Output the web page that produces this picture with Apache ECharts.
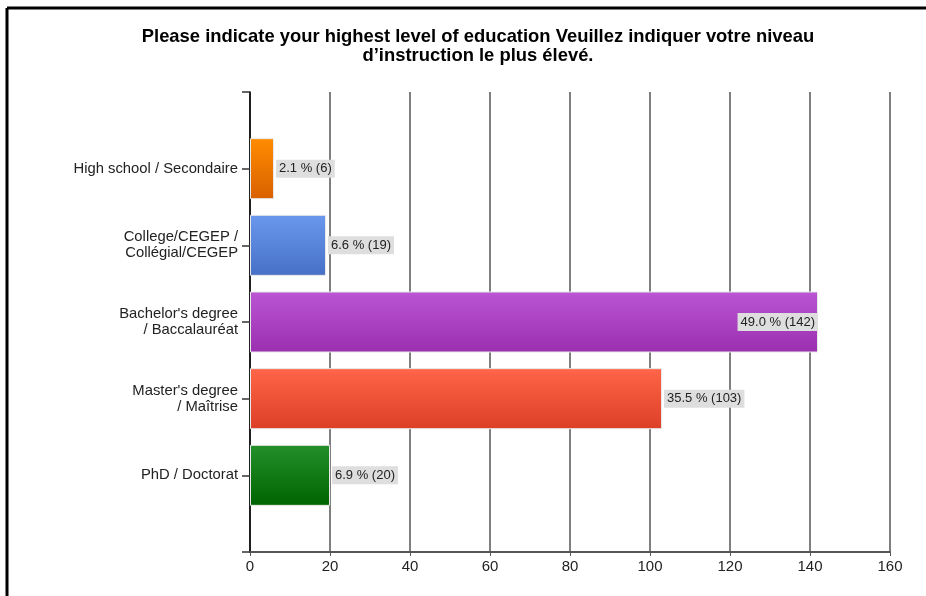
<!DOCTYPE html>
<html>
<head>
<meta charset="utf-8">
<script src="https://cdn.jsdelivr.net/npm/echarts@6/dist/echarts.min.js"></script>
<style>
  html, body { margin: 0; padding: 0; background: #fff; }
  #chart { width: 926px; height: 596px; }
</style>
</head>
<body>
<div id="chart"></div>
<script>
// Survey responses: highest level of education
const categories = [
  'High school / Secondaire',
  'College/CEGEP /\nCollégial/CEGEP',
  "Bachelor's degree\n/ Baccalauréat",
  "Master's degree\n/ Maîtrise",
  'PhD / Doctorat'
];
const counts = [6, 19, 142, 103, 20];
const percents = [2.1, 6.6, 49.0, 35.5, 6.9];
const xTicks = [0, 20, 40, 60, 80, 100, 120, 140, 160];

// Gradient stops (top, bottom) for each bar
const barColors = [
  ['#ff8c00', '#d96000'],
  ['#6a98ec', '#4670c6'],
  ['#bb55d4', '#9a2fb0'],
  ['#ff6548', '#dc4027'],
  ['#23902a', '#006400']
];

const FONT = 'Liberation Sans, Arial, sans-serif';

// Empty slots at both ends so the bands sit between the axis ends
const axisCats = [''].concat(categories, ['']);

const seriesData = [null];
counts.forEach(function (v, i) {
  const inside = i === 2;
  seriesData.push({
    value: v,
    pct: percents[i],
    itemStyle: {
      color: new echarts.graphic.LinearGradient(0, 0, 0, 1, [
        { offset: 0, color: barColors[i][0] },
        { offset: 1, color: barColors[i][1] }
      ])
    },
    label: inside ? { position: 'insideRight', distance: 0 } : { position: 'right', distance: 2 }
  });
});
seriesData.push(null);

const chart = echarts.init(document.getElementById('chart'), null, { renderer: 'canvas' });
chart.setOption({
  animation: false,
  backgroundColor: '#fff',
  title: {
    text: 'Please indicate your highest level of education Veuillez indiquer votre niveau\nd’instruction le plus élevé.',
    left: 473,
    top: 22,
    textAlign: 'center',
    textStyle: {
      fontFamily: FONT,
      fontSize: 18.4,
      fontWeight: 'bold',
      color: '#000',
      lineHeight: 19
    }
  },
  grid: { left: 250, right: 36, top: 92, bottom: 44, containLabel: false },
  xAxis: {
    type: 'value',
    min: 0,
    max: 160,
    interval: 20,
    axisLine: { show: true, lineStyle: { color: '#555', width: 2 } },
    axisTick: { show: true, length: 4, lineStyle: { color: '#555' } },
    axisLabel: {
      margin: 7,
      color: '#222',
      fontFamily: FONT,
      fontSize: 15,
      formatter: function (v) { return xTicks.indexOf(v) >= 0 ? String(v) : ''; }
    },
    splitLine: { show: true, lineStyle: { color: '#555', width: 1.5 } }
  },
  yAxis: {
    type: 'category',
    inverse: true,
    boundaryGap: false,
    data: axisCats,
    axisLine: { show: true, lineStyle: { color: '#000', width: 1.5 } },
    axisTick: { show: true, length: 8, lineStyle: { color: '#333', width: 1.5 } },
    axisLabel: {
      margin: 12,
      color: '#222',
      fontFamily: FONT,
      fontSize: 14.8,
      lineHeight: 16,
      align: 'right'
    },
    splitLine: { show: false }
  },
  series: [{
    type: 'bar',
    data: seriesData,
    barWidth: 61,
    itemStyle: { borderColor: '#e8e8e8', borderWidth: 1 },
    label: {
      show: true,
      color: '#222',
      fontFamily: FONT,
      fontSize: 13,
      backgroundColor: '#dedede',
      padding: [3, 3, 2, 3],
      formatter: function (p) {
        return p.data.pct.toFixed(1) + ' % (' + p.value + ')';
      }
    }
  }],
  graphic: [
    { type: 'line', shape: { x1: 7, y1: 8, x2: 926, y2: 8 }, style: { stroke: '#000', lineWidth: 3 } },
    { type: 'line', shape: { x1: 7, y1: 8, x2: 7, y2: 596 }, style: { stroke: '#000', lineWidth: 3 } }
  ]
});
</script>
</body>
</html>
